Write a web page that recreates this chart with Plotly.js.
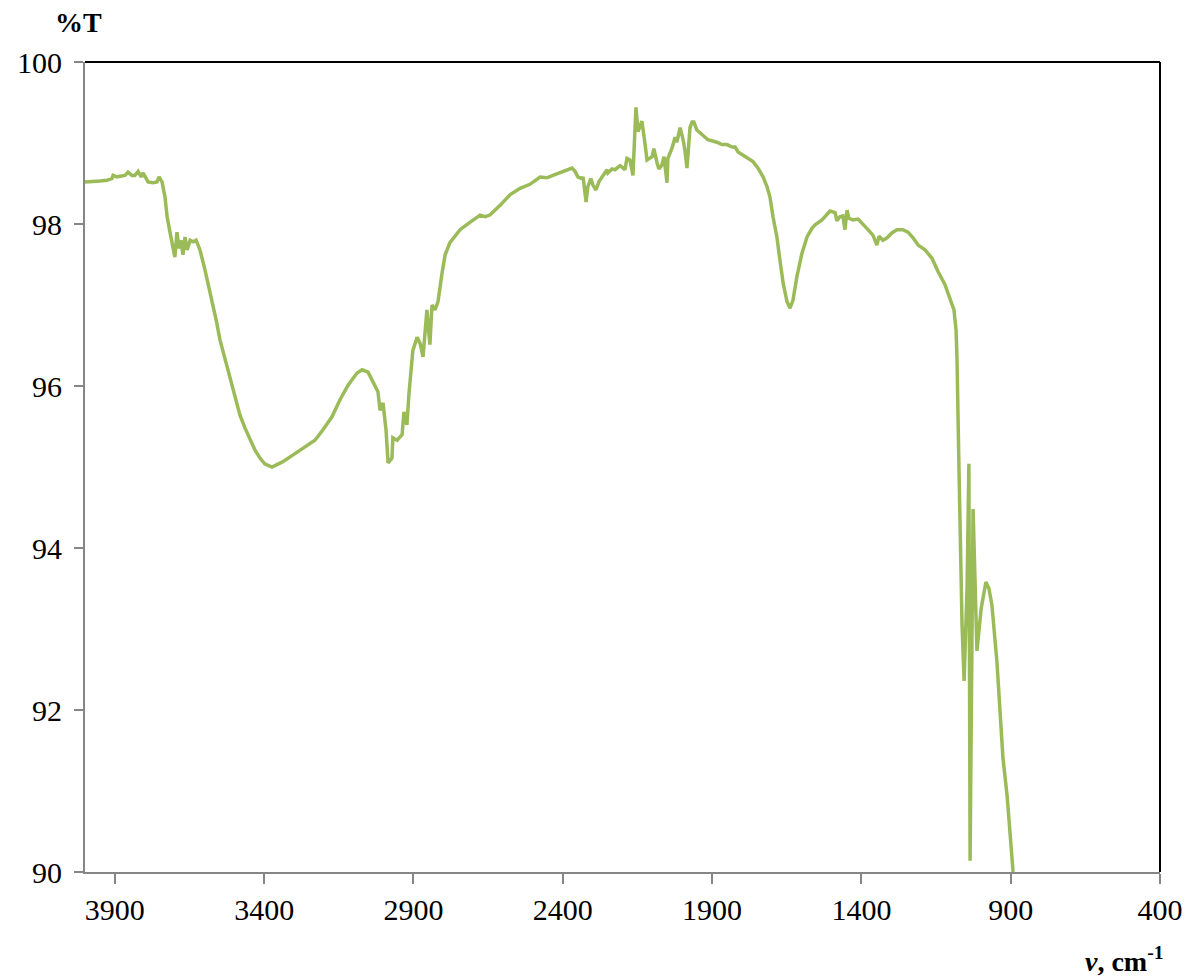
<!DOCTYPE html>
<html>
<head>
<meta charset="utf-8">
<script src="https://cdn.plot.ly/plotly-3.0.1.min.js"></script>
<style>
  html, body { margin: 0; padding: 0; background: #ffffff; }
  #chart { width: 1193px; height: 976px; }
</style>
</head>
<body>
<div id="chart"></div>
<script>
// Wavenumber (cm-1)
const wavenumber = [
  4000, 3973, 3950, 3926, 3910, 3906, 3893, 3883, 3866, 3856,
  3843, 3833, 3822, 3812, 3806, 3796, 3789, 3772, 3759, 3752,
  3742, 3732, 3725, 3715, 3705, 3699, 3692, 3685, 3679, 3672,
  3665, 3658, 3648, 3638, 3628, 3615, 3598, 3588, 3575, 3560,
  3548, 3531, 3514, 3498, 3481, 3464, 3447, 3431, 3414, 3398,
  3374, 3340, 3303, 3270, 3230, 3203, 3173, 3146, 3119, 3089,
  3072, 3052, 3042, 3029, 3019, 3012, 3002, 2992, 2985, 2972,
  2969, 2955, 2938, 2932, 2922, 2915, 2902, 2888, 2878, 2868,
  2855, 2845, 2838, 2828, 2818, 2804, 2794, 2778, 2744, 2711,
  2677, 2660, 2644, 2610, 2577, 2543, 2510, 2476, 2453, 2433,
  2409, 2393, 2369, 2359, 2349, 2336, 2332, 2322, 2316, 2306,
  2299, 2289, 2279, 2265, 2252, 2249, 2235, 2225, 2208, 2198,
  2192, 2185, 2175, 2165, 2155, 2148, 2135, 2125, 2118, 2101,
  2095, 2084, 2078, 2068, 2061, 2051, 2048, 2034, 2024, 2018,
  2007, 1997, 1991, 1984, 1974, 1967, 1961, 1951, 1940, 1924,
  1914, 1884, 1867, 1850, 1833, 1823, 1813, 1796, 1780, 1763,
  1746, 1729, 1716, 1706, 1696, 1683, 1673, 1662, 1649, 1639,
  1629, 1616, 1599, 1582, 1565, 1555, 1532, 1515, 1505, 1488,
  1482, 1472, 1462, 1455, 1448, 1442, 1428, 1411, 1395, 1378,
  1361, 1348, 1341, 1328, 1314, 1298, 1281, 1261, 1244, 1227,
  1210, 1187, 1164, 1143, 1120, 1103, 1090, 1083, 1080, 1073,
  1063, 1056, 1046, 1040, 1036, 1026, 1013, 999, 983, 973,
  963, 946, 926, 912, 892
];

// Transmittance (%T)
const transmittance = [
  98.52, 98.52, 98.53, 98.54, 98.56, 98.60, 98.58, 98.59, 98.60, 98.64,
  98.60, 98.60, 98.65, 98.58, 98.63, 98.57, 98.52, 98.51, 98.52, 98.58,
  98.52, 98.33, 98.09, 97.89, 97.72, 97.59, 97.90, 97.70, 97.80, 97.62,
  97.84, 97.68, 97.80, 97.78, 97.80, 97.68, 97.43, 97.27, 97.06, 96.80,
  96.57, 96.34, 96.07, 95.86, 95.64, 95.48, 95.34, 95.21, 95.11, 95.04,
  95.00, 95.06, 95.15, 95.23, 95.33, 95.46, 95.62, 95.83, 96.01, 96.16,
  96.20, 96.17, 96.10, 95.99, 95.93, 95.70, 95.79, 95.46, 95.05, 95.11,
  95.36, 95.33, 95.40, 95.68, 95.52, 95.91, 96.44, 96.60, 96.53, 96.36,
  96.94, 96.51, 97.00, 96.94, 97.04, 97.40, 97.62, 97.77, 97.93, 98.02,
  98.11, 98.09, 98.11, 98.23, 98.36, 98.44, 98.49, 98.58, 98.57, 98.60,
  98.63, 98.65, 98.69, 98.65, 98.58, 98.56, 98.58, 98.27, 98.46, 98.56,
  98.48, 98.42, 98.52, 98.60, 98.67, 98.63, 98.68, 98.67, 98.72, 98.69,
  98.67, 98.81, 98.79, 98.60, 99.44, 99.14, 99.27, 99.00, 98.79, 98.83,
  98.93, 98.75, 98.68, 98.73, 98.83, 98.51, 98.81, 98.94, 99.07, 99.01,
  99.19, 99.04, 98.91, 98.69, 99.19, 99.26, 99.26, 99.16, 99.12, 99.07,
  99.04, 99.01, 98.98, 98.98, 98.95, 98.95, 98.89, 98.85, 98.81, 98.77,
  98.69, 98.58, 98.46, 98.33, 98.09, 97.84, 97.56, 97.27, 97.04, 96.96,
  97.06, 97.35, 97.64, 97.84, 97.95, 97.99, 98.05, 98.11, 98.16, 98.14,
  98.04, 98.09, 98.10, 97.93, 98.17, 98.07, 98.05, 98.06, 97.99, 97.93,
  97.86, 97.74, 97.85, 97.80, 97.83, 97.89, 97.93, 97.93, 97.90, 97.83,
  97.74, 97.68, 97.58, 97.41, 97.25, 97.09, 96.94, 96.69, 96.37, 94.95,
  93.06, 92.36, 93.53, 95.04, 90.14, 94.48, 92.73, 93.25, 93.58, 93.50,
  93.30, 92.59, 91.41, 90.94, 90.00
];

const xTickStart = 400;
const xTickStep = 500;
const yTickStep = 2;

const trace = {
  x: wavenumber,
  y: transmittance,
  type: 'scatter',
  mode: 'lines',
  line: { color: '#9BBB59', width: 3.5 },
  hoverinfo: 'x+y'
};

const fontFamily = '"Liberation Serif", "Times New Roman", serif';

const layout = {
  width: 1193,
  height: 976,
  margin: { l: 85, r: 33, t: 62, b: 104 },
  paper_bgcolor: '#ffffff',
  plot_bgcolor: '#ffffff',
  showlegend: false,
  font: { family: fontFamily, size: 30, color: '#000000' },
  xaxis: {
    range: [4000, 400],
    tickmode: 'linear',
    tick0: xTickStart,
    dtick: xTickStep,
    ticks: 'outside',
    ticklen: 10,
    tickwidth: 2,
    tickcolor: '#868686',
    showline: true,
    linecolor: '#868686',
    linewidth: 2,
    showgrid: false,
    zeroline: false,
    tickfont: { family: fontFamily, size: 30, color: '#000000' }
  },
  yaxis: {
    range: [90, 100],
    tickmode: 'linear',
    tick0: 90,
    dtick: yTickStep,
    ticks: 'outside',
    ticklen: 9,
    tickwidth: 2,
    tickcolor: '#868686',
    showline: true,
    linecolor: '#868686',
    linewidth: 2,
    showgrid: false,
    zeroline: false,
    ticklabelstandoff: 6,
    tickfont: { family: fontFamily, size: 30, color: '#000000' }
  },
  shapes: [
    { type: 'line', xref: 'paper', yref: 'paper', x0: 0, x1: 1, y0: 1, y1: 1,
      line: { color: '#000000', width: 2 } },
    { type: 'line', xref: 'paper', yref: 'paper', x0: 1, x1: 1, y0: 0, y1: 1,
      line: { color: '#000000', width: 2 } }
  ],
  annotations: [
    { text: '<b>%T</b>', xref: 'paper', yref: 'paper', x: 0, y: 1,
      xanchor: 'center', yanchor: 'bottom', xshift: -7, yshift: 22,
      showarrow: false, font: { family: fontFamily, size: 28, color: '#000000' } },
    { text: '<b><i>ν</i>, cm<sup>-1</sup></b>', xref: 'paper', yref: 'paper', x: 1, y: 0,
      xanchor: 'right', yanchor: 'top', xshift: 6, yshift: -68,
      showarrow: false, font: { family: fontFamily, size: 28, color: '#000000' } }
  ]
};

Plotly.newPlot('chart', [trace], layout, { displayModeBar: false, staticPlot: true });
</script>
</body>
</html>
